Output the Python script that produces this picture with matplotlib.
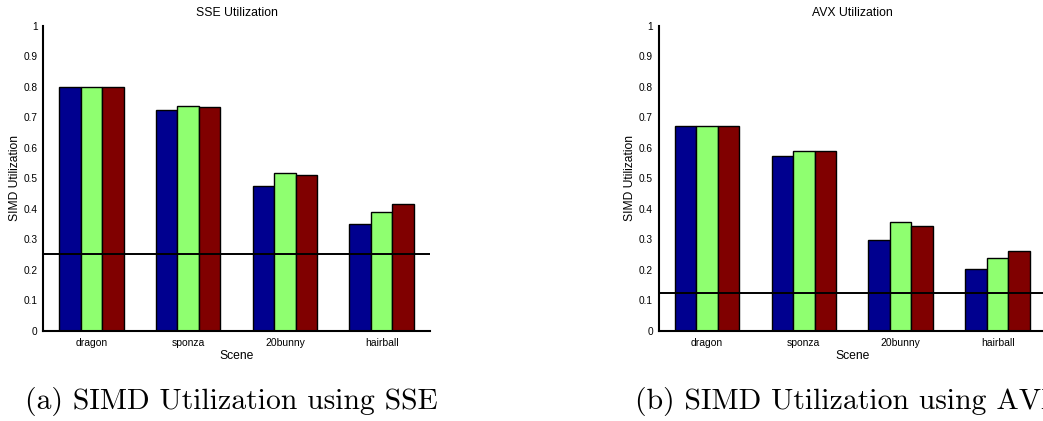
import matplotlib
matplotlib.use("Agg")
import matplotlib.pyplot as plt
import numpy as np

scenes = ["dragon", "sponza", "20bunny", "hairball"]

sse_series = [
    [0.800, 0.724, 0.474, 0.350],
    [0.800, 0.737, 0.518, 0.389],
    [0.800, 0.732, 0.511, 0.417],
]
sse_baseline = 0.25

avx_series = [
    [0.671, 0.572, 0.299, 0.202],
    [0.671, 0.590, 0.358, 0.238],
    [0.671, 0.588, 0.344, 0.262],
]
avx_baseline = 0.125

yticks = [0, 0.1, 0.2, 0.3, 0.4, 0.5, 0.6, 0.7, 0.8, 0.9, 1]
ytick_labels = ["0", "0.1", "0.2", "0.3", "0.4", "0.5", "0.6", "0.7", "0.8", "0.9", "1"]

series_colors = ["#00008F", "#8FFF70", "#800000"]

plt.rcParams["font.family"] = ["Liberation Sans", "DejaVu Sans"]

W, H = 1043, 421
fig = plt.figure(figsize=(W / 100, H / 100), dpi=100)


def draw(ax, series, baseline, title):
    n = len(series)
    x = np.arange(1, len(scenes) + 1)
    group_w = 0.667
    bw = group_w / n
    for i, (vals, col) in enumerate(zip(series, series_colors)):
        offs = -group_w / 2 + bw * (i + 0.5)
        ax.bar(x + offs, vals, width=bw, color=col, edgecolor="black",
               linewidth=1.0, zorder=2)
    ax.axhline(baseline, color="black", linewidth=1.4, zorder=3)
    ax.set_xlim(0.5, 4.5)
    ax.set_ylim(0, 1)
    ax.set_xticks(x)
    ax.set_xticklabels(scenes, fontsize=7.5)
    ax.set_yticks(yticks)
    ax.set_yticklabels(ytick_labels, fontsize=7.3)
    ax.tick_params(length=0, pad=4)
    ax.tick_params(axis="x", pad=5)
    for s in ("top", "right"):
        ax.spines[s].set_visible(False)
    for s in ("left", "bottom"):
        ax.spines[s].set_linewidth(1.5)
    ax.set_xlabel("Scene", fontsize=8.7, labelpad=2)
    ax.set_ylabel("SIMD Utilization", fontsize=8.7, labelpad=2)
    ax.set_title(title, fontsize=8.8, pad=7)


bottom = 1 - 330.7 / H
height = 305 / H
ax1 = fig.add_axes([43 / W, bottom, 387 / W, height])
draw(ax1, sse_series, sse_baseline, "SSE Utilization")
ax2 = fig.add_axes([658.5 / W, bottom, 387.5 / W, height])
draw(ax2, avx_series, avx_baseline, "AVX Utilization")

fig.text(25 / W, 1 - 401 / H, "(a) SIMD Utilization using SSE",
         family="cmr10", fontsize=21.4, va="center", ha="left")
fig.text(635 / W, 1 - 401 / H, "(b) SIMD Utilization using AVX",
         family="cmr10", fontsize=21.4, va="center", ha="left")

fig.savefig("out.png", dpi=100)
